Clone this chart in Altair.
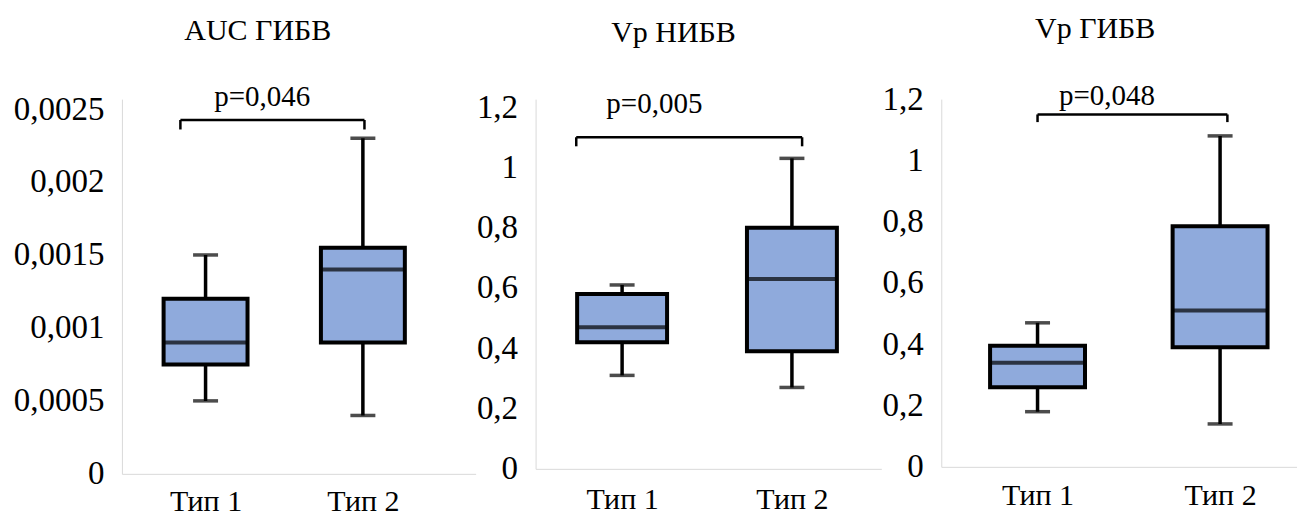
import altair as alt
import pandas as pd

FONT = "Liberation Serif"
BOX_FILL = "#8faadc"
AXIS_GRAY = "#d9d9d9"

categories = ["Тип 1", "Тип 2"]
cat_index = [1, 2]

# panel 1: AUC ГИБВ
p1_lo = [0.0005, 0.0004]
p1_q1 = [0.00075, 0.0009]
p1_med = [0.0009, 0.0014]
p1_q3 = [0.0012, 0.00155]
p1_hi = [0.0015, 0.0023]
p1_ticks = [0, 0.0005, 0.001, 0.0015, 0.002, 0.0025]

# panel 2: Vp НИБВ
p2_lo = [0.31, 0.27]
p2_q1 = [0.42, 0.39]
p2_med = [0.47, 0.63]
p2_q3 = [0.58, 0.80]
p2_hi = [0.61, 1.03]
p2_ticks = [0, 0.2, 0.4, 0.6, 0.8, 1, 1.2]

# panel 3: Vp ГИБВ
p3_lo = [0.18, 0.14]
p3_q1 = [0.26, 0.39]
p3_med = [0.34, 0.51]
p3_q3 = [0.395, 0.785]
p3_hi = [0.47, 1.08]
p3_ticks = [0, 0.2, 0.4, 0.6, 0.8, 1, 1.2]

titles = ["AUC ГИБВ", "Vp НИБВ", "Vp ГИБВ"]
p_labels = ["p=0,046", "p=0,005", "p=0,048"]
# bracket: left x, right x, bar level, end level; label x, label y
br_left = [0.84, 0.73, 1.0]
br_right = [2.01, 2.06, 2.04]
br_y = [0.002425, 1.10, 1.15]
br_end = [0.00236, 1.07, 1.125]
lab_x = [1.36, 1.19, 1.38]
lab_y = [0.00258, 1.21, 1.21]


def panel(i, lo, q1, med, q3, hi, ticks, ymax, width, height, xdom, box_w,
          title_dx, title_off, xlab_pad):
    df = pd.DataFrame({"cat": cat_index, "name": categories, "lo": lo, "q1": q1,
                       "med": med, "q3": q3, "hi": hi})
    br = pd.DataFrame({"l": [br_left[i]], "r": [br_right[i]], "y": [br_y[i]],
                       "e": [br_end[i]], "lx": [lab_x[i]], "ly": [lab_y[i]],
                       "txt": [p_labels[i]]})
    xsc = alt.Scale(domain=xdom, nice=False, zero=False)
    ysc = alt.Scale(domain=[0, ymax], nice=False, zero=True)
    xax = alt.Axis(values=cat_index, labelExpr="'Тип ' + datum.value", grid=False,
                   ticks=False, domainColor=AXIS_GRAY, labelFont=FONT, labelFontSize=30,
                   labelColor="black", labelPadding=xlab_pad, title=None, labelFlush=False)
    yax = alt.Axis(values=ticks, labelExpr="replace(format(datum.value, '~g'), '.', ',')",
                   grid=False, ticks=False, domainColor=AXIS_GRAY, labelFont=FONT,
                   labelFontSize=33, labelColor="black", labelPadding=18, title=None)
    base = alt.Chart(df)
    X = alt.X("cat:Q", scale=xsc, axis=xax)
    whisk = base.mark_rule(color="black", strokeWidth=3.5).encode(
        x=X, y=alt.Y("lo:Q", scale=ysc, axis=yax), y2="hi:Q")
    box = base.mark_bar(size=box_w, fill=BOX_FILL, stroke="black", strokeWidth=4).encode(
        x="cat:Q", y="q1:Q", y2="q3:Q")
    medt = base.mark_tick(orient="horizontal", size=box_w, thickness=4, color="black").encode(
        x="cat:Q", y="med:Q")
    caplo = base.mark_tick(orient="horizontal", size=25, thickness=3.5, color="black").encode(
        x="cat:Q", y="lo:Q")
    caphi = base.mark_tick(orient="horizontal", size=25, thickness=3.5, color="black").encode(
        x="cat:Q", y="hi:Q")
    bb = alt.Chart(br)
    bh = bb.mark_rule(color="black", strokeWidth=2.5).encode(x="l:Q", x2="r:Q", y="y:Q")
    bl = bb.mark_rule(color="black", strokeWidth=2.5).encode(x="l:Q", y="y:Q", y2="e:Q")
    brr = bb.mark_rule(color="black", strokeWidth=2.5).encode(x="r:Q", y="y:Q", y2="e:Q")
    txt = bb.mark_text(font=FONT, fontSize=29, color="black", baseline="middle").encode(
        x="lx:Q", y="ly:Q", text="txt:N")
    return alt.layer(whisk, box, medt, caplo, caphi, bh, bl, brr, txt).properties(
        width=width, height=height,
        title=alt.TitleParams(titles[i], font=FONT, fontSize=30, fontWeight="normal",
                              color="black", anchor="middle", dx=title_dx, offset=title_off))


c1 = panel(0, p1_lo, p1_q1, p1_med, p1_q3, p1_hi, p1_ticks, 0.002568, 354, 375,
           [0.5, 2.685], 84, -41, 37, 13)
c2 = panel(1, p2_lo, p2_q1, p2_med, p2_q3, p2_hi, p2_ticks, 1.2265, 346, 370,
           [0.52, 2.497], 90, -35, 42, 16)
c3 = panel(2, p3_lo, p3_q1, p3_med, p3_q3, p3_hi, p3_ticks, 1.2, 356, 368,
           [0.5, 2.394], 95, -24, 38, 14)

chart = alt.hconcat(c1, c2, c3, spacing=0).properties(
    padding={"left": 5, "top": 5, "right": 0, "bottom": 0}
).configure(background="white", font=FONT).configure_view(strokeWidth=0)

chart.save("out.html", embed_options={"renderer": "svg", "actions": False})
